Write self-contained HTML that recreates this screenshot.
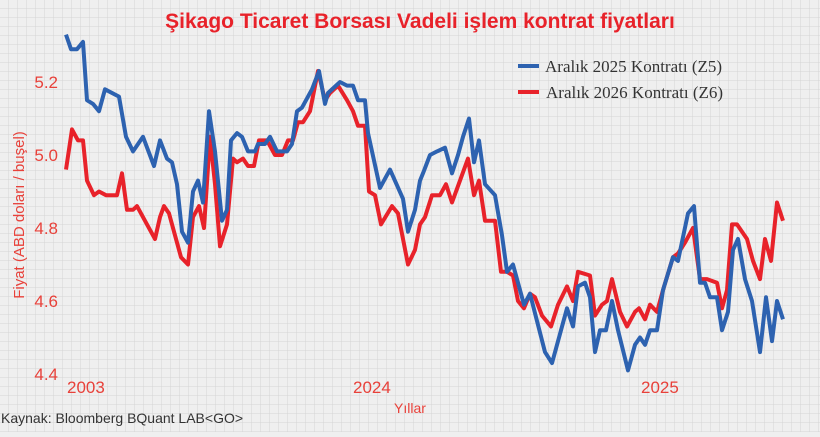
<!DOCTYPE html>
<html><head><meta charset="utf-8">
<style>
html,body{margin:0;padding:0;background:#efefef;}
body{width:820px;height:432px;overflow:hidden;font-family:"Liberation Sans",sans-serif;}
</style></head>
<body>
<svg id="chart" width="820" height="432" viewBox="0 0 820 432" xmlns="http://www.w3.org/2000/svg">
<defs>
<pattern id="grid" width="9" height="9" patternUnits="userSpaceOnUse">
<path d="M9 0V9M0 9H9" fill="none" stroke="#d4d4d4" stroke-width="1"/>
</pattern>
</defs>
<rect x="0" y="0" width="820" height="432" fill="url(#grid)"/>
<text x="420" y="28" text-anchor="middle" font-size="21" font-weight="bold" fill="#e8222a">Şikago Ticaret Borsası Vadeli işlem kontrat fiyatları</text>
<g id="yaxis"></g>
<text transform="translate(24,215) rotate(-90)" text-anchor="middle" font-size="15" fill="#e8413a">Fiyat (ABD doları / buşel)</text>
<g id="xaxis"></g>
<text x="410" y="413" text-anchor="middle" font-size="14" fill="#e8413a">Yıllar</text>
<g id="series"></g>
<g>
<g>
<line x1="518" y1="66" x2="539" y2="66" stroke="#2d62b0" stroke-width="4"/>
<text x="545" y="72" font-family="Liberation Serif,serif" font-size="17" fill="#333">Aralık 2025 Kontratı (Z5)</text>
</g>
<g>
<line x1="518" y1="92" x2="539" y2="92" stroke="#e8222a" stroke-width="4"/>
<text x="546" y="98" font-family="Liberation Serif,serif" font-size="17" fill="#333">Aralık 2026 Kontratı (Z6)</text>
</g>
</g>
<text x="1" y="423" font-size="14" fill="#333">Kaynak: Bloomberg BQuant LAB&lt;GO&gt;</text>
</svg>
<script>
const yTicks=[5.2,5.0,4.8,4.6,4.4];
const yTickLabels=["5.2","5.0","4.8","4.6","4.4"];
const xTickDays=[0,286,574];
const xTickLabels=["2003","2024","2025"];
const daysZ5=[0,5,11,17,21,27,33,39,53,60,67,77,88,94,101,106,111,116,122,127,132,137,143,149,156,161,165,171,176,182,189,192,199,204,211,221,226,231,236,246,253,259,262,274,281,287,292,299,302,314,324,337,342,349,354,357,364,371,379,386,392,397,403,408,413,419,429,436,441,447,458,464,479,486,501,507,512,519,524,529,534,540,546,552,562,569,574,579,584,591,597,607,612,622,628,634,639,644,651,656,662,667,672,679,686,694,700,706,711,717];
const valuesZ5=[5.33,5.29,5.29,5.31,5.15,5.14,5.12,5.18,5.16,5.05,5.01,5.05,4.97,5.04,4.99,4.98,4.92,4.79,4.76,4.90,4.93,4.87,5.12,5.01,4.82,4.85,5.04,5.06,5.05,5.01,5.01,5.03,5.03,5.05,5.01,5.01,5.03,5.12,5.13,5.18,5.23,5.14,5.17,5.20,5.19,5.19,5.15,5.15,5.06,4.91,4.96,4.88,4.79,4.85,4.93,4.95,5.00,5.01,5.02,4.95,5.00,5.05,5.10,4.98,5.04,4.92,4.89,4.78,4.68,4.70,4.59,4.62,4.46,4.43,4.58,4.53,4.64,4.65,4.61,4.46,4.52,4.52,4.60,4.52,4.41,4.48,4.50,4.48,4.52,4.52,4.63,4.72,4.71,4.84,4.86,4.65,4.65,4.61,4.61,4.52,4.57,4.74,4.77,4.66,4.60,4.46,4.61,4.49,4.60,4.55];
const daysZ6=[0,6,12,17,21,28,33,40,51,56,61,67,71,81,89,94,98,103,109,115,122,127,133,138,144,149,154,161,167,171,177,182,188,193,201,209,216,222,227,232,237,244,252,259,264,272,281,287,292,299,303,309,315,326,332,342,349,354,359,366,374,380,386,394,402,408,413,419,429,435,441,447,452,458,464,469,476,485,492,501,507,512,524,529,536,541,546,554,561,569,573,579,584,591,597,607,612,619,627,634,641,651,656,661,666,671,681,687,694,699,705,711,717];
const valuesZ6=[4.96,5.07,5.04,5.04,4.93,4.89,4.90,4.89,4.89,4.95,4.85,4.85,4.86,4.81,4.77,4.83,4.86,4.84,4.78,4.72,4.70,4.83,4.86,4.80,5.05,4.92,4.75,4.81,4.99,4.98,4.99,4.97,4.97,5.04,5.04,5.00,5.00,5.04,5.04,5.09,5.09,5.12,5.23,5.15,5.17,5.19,5.15,5.12,5.08,5.08,4.90,4.89,4.81,4.86,4.84,4.70,4.74,4.81,4.83,4.89,4.89,4.92,4.87,4.93,4.99,4.89,4.93,4.82,4.82,4.68,4.68,4.67,4.60,4.58,4.62,4.61,4.56,4.53,4.59,4.64,4.60,4.68,4.67,4.56,4.59,4.60,4.66,4.57,4.53,4.57,4.58,4.55,4.59,4.57,4.63,4.72,4.73,4.76,4.80,4.66,4.66,4.65,4.58,4.63,4.81,4.81,4.77,4.71,4.66,4.77,4.71,4.87,4.82];
const X0=66,X1=783,DMAX=717;
const xs=d=>X0+(d/DMAX)*(X1-X0);
const ys=v=>82+(5.2-v)*365;
const NS="http://www.w3.org/2000/svg";
const yg=document.getElementById('yaxis');
yTicks.forEach((t,i)=>{const e=document.createElementNS(NS,'text');


e.setAttribute('x',58);e.setAttribute('y',ys(t)+6);e.setAttribute('text-anchor','end');
e.setAttribute('font-size','17');e.setAttribute('fill','#e8413a');e.textContent=yTickLabels[i];yg.appendChild(e);});
const xg=document.getElementById('xaxis');
xTickDays.forEach((d,i)=>{const e=document.createElementNS(NS,'text');


e.setAttribute('x',xs(d)+1);e.setAttribute('y',393);
e.setAttribute('font-size','17');e.setAttribute('fill','#e8413a');e.textContent=xTickLabels[i];xg.appendChild(e);});
function line(days,vals,color,name){const n=Math.min(days.length,vals.length);
const p=document.createElementNS(NS,'polyline');


let pts=[];for(let i=0;i<n;i++)pts.push(xs(days[i]).toFixed(1)+','+ys(vals[i]).toFixed(1));
p.setAttribute('points',pts.join(' '));p.setAttribute('fill','none');p.setAttribute('stroke',color);
p.setAttribute('stroke-width','4');p.setAttribute('stroke-linejoin','round');
document.getElementById('series').appendChild(p);}
line(daysZ6,valuesZ6,'#e8222a','series-z6-line');
line(daysZ5,valuesZ5,'#2d62b0','series-z5-line');
</script>
</body></html>
